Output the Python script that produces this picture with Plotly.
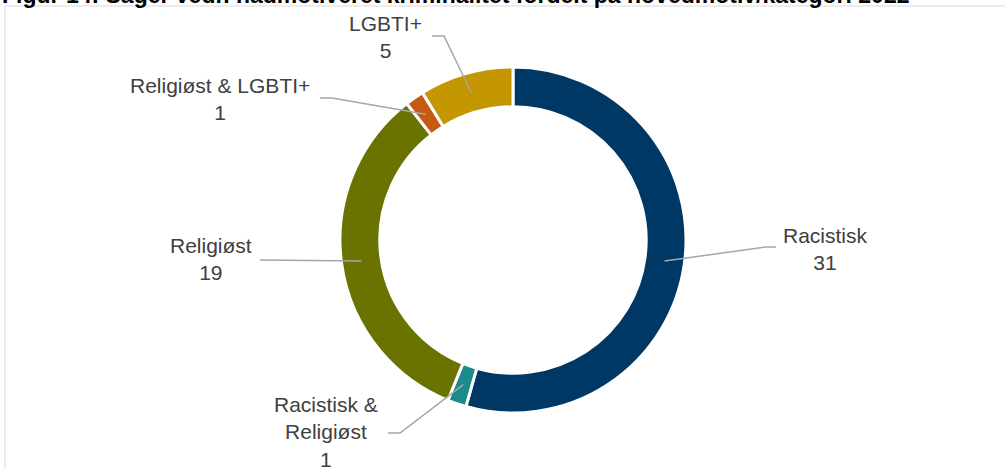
import math
import plotly.graph_objects as go

labels = ["Racistisk", "Racistisk & Religiøst", "Religiøst", "Religiøst & LGBTI+", "LGBTI+"]
values = [31, 1, 19, 1, 5]
label_text = ["Racistisk<br>31", "Racistisk &<br>Religiøst<br>1", "Religiøst<br>19",
              "Religiøst & LGBTI+<br>1", "LGBTI+<br>5"]
colors = ["#003865", "#1A8A8C", "#6A7300", "#C55A11", "#C49700"]
title = "Figur 14: Sager vedr. hadmotiveret kriminalitet fordelt på hovedmotiv/kategori 2022"

W, H = 1005, 468
CX, CY, R = 513, 240, 173
R_ANCHOR = 153

def px(x, y):
    return x / W, 1 - y / H

# label centers and elbow points (layout only, in pixels)
label_pos = [(825, 249), (326, 432), (211, 259), (220, 99), (385, 37)]
elbows = [[(776, 247), (766, 247)],
          [(388, 433), (400, 433)],
          [(260, 260)],
          [(320, 98), (332, 98)],
          [(432, 36), (444, 36)]]

fig = go.Figure()
fig.add_trace(go.Pie(
    labels=labels, values=values, sort=False, direction="clockwise", rotation=0,
    hole=0.77, textinfo="none", showlegend=False,
    marker=dict(colors=colors, line=dict(color="white", width=3)),
    domain=dict(x=[(CX - R) / W, (CX + R) / W], y=[1 - (CY + R) / H, 1 - (CY - R) / H]),
))

total = sum(values)
cum = 0
shapes = []
annotations = []
for i, v in enumerate(values):
    mid = (cum + v / 2) / total * 2 * math.pi
    cum += v
    ax = CX + R_ANCHOR * math.sin(mid)
    ay = CY - R_ANCHOR * math.cos(mid)
    pts = elbows[i] + [(ax, ay)]
    path = ""
    for j, (x, y) in enumerate(pts):
        xp, yp = px(x, y)
        path += ("M" if j == 0 else " L") + f" {xp:.5f} {yp:.5f}"
    shapes.append(dict(type="path", xref="paper", yref="paper", path=path,
                       line=dict(color="#A6A6A6", width=1.5)))
    lx, ly = px(*label_pos[i])
    annotations.append(dict(x=lx, y=ly, xref="paper", yref="paper", text=label_text[i],
                            showarrow=False, align="center", xanchor="center", yanchor="middle",
                            font=dict(family="Liberation Sans, Arial", size=21, color="#404040")))

# frame
shapes.append(dict(type="rect", xref="paper", yref="paper", x0=px(5, 0)[0], x1=1.01,
                   y0=-0.01, y1=px(0, 6)[1], line=dict(color="#D9D9D9", width=1)))
tx, ty = px(0, -5)
annotations.append(dict(x=tx, y=ty, xref="paper", yref="paper", text=f"<b>{title}</b>",
                        showarrow=False, xanchor="left", yanchor="middle",
                        font=dict(family="Liberation Sans, Arial", size=23, color="#000000")))

fig.update_layout(width=W, height=H, margin=dict(l=0, r=0, t=0, b=0),
                  paper_bgcolor="white", plot_bgcolor="white",
                  shapes=shapes, annotations=annotations)
fig.write_html("out.html", config={"displayModeBar": False},
               post_script="document.body.style.margin='0';document.body.style.overflow='hidden';")
